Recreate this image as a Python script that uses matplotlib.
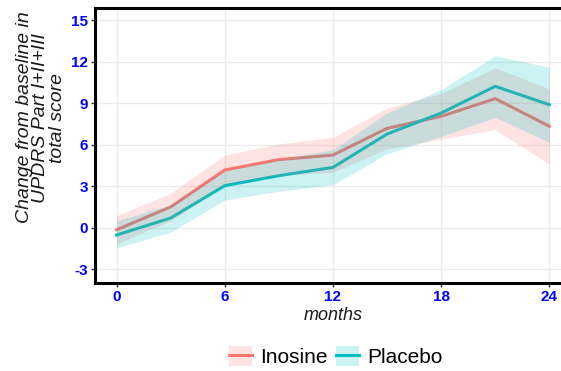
import matplotlib
matplotlib.use("Agg")
import matplotlib.pyplot as plt
from matplotlib.patches import Patch
from matplotlib.lines import Line2D

plt.rcParams['font.family'] = ['Liberation Sans', 'DejaVu Sans']

# 月份
months = [0, 3, 6, 9, 12, 15, 18, 21, 24]

# Inosine 组
inosine = [-0.15, 1.5, 4.17, 4.92, 5.25, 7.18, 8.05, 9.33, 7.33]
inosine_lo = [-1.15, 0.5, 3.1, 3.8, 4.0, 5.7, 6.4, 7.09, 4.6]
inosine_hi = [0.87, 2.5, 5.25, 6.05, 6.53, 8.65, 9.7, 11.55, 10.03]

# Placebo 组
placebo = [-0.53, 0.7, 3.04, 3.76, 4.36, 6.77, 8.29, 10.22, 8.89]
placebo_lo = [-1.47, -0.31, 2.0, 2.63, 3.1, 5.35, 6.6, 7.98, 6.17]
placebo_hi = [0.5, 1.66, 4.1, 4.9, 5.64, 8.29, 9.98, 12.44, 11.6]

xticks = [0, 6, 12, 18, 24]
yticks = [-3, 0, 3, 6, 9, 12, 15]

red = '#F8766D'
teal = '#00BFC4'

fig = plt.figure(figsize=(5.61, 3.71), dpi=100)
# 面板右侧超出图片边缘（原图被裁掉）
ax = fig.add_axes([0.1693, 0.2372, 0.8485, 0.7408])

ax.plot(months, inosine, color=red, lw=2.2, zorder=2)
ax.plot(months, placebo, color=teal, lw=2.2, zorder=2)
ax.fill_between(months, inosine_lo, inosine_hi, color=red, alpha=0.2, lw=0, zorder=3)
ax.fill_between(months, placebo_lo, placebo_hi, color=teal, alpha=0.2, lw=0, zorder=3)

ax.set_xlim(-1.2, 25.2)
ax.set_ylim(-4.0, 15.87)
ax.set_xticks(xticks)
ax.set_yticks(yticks)
ax.set_xticklabels([str(v) for v in xticks])
ax.set_yticklabels([str(v) for v in yticks])
ax.grid(True, color='#ebebeb', lw=1.0, zorder=0)
ax.set_axisbelow(True)

for lab in ax.get_xticklabels() + ax.get_yticklabels():
    lab.set_color('#0000FF')
    lab.set_fontweight('bold')
    lab.set_fontsize(11)
ax.tick_params(length=3, width=1, color='#333333', pad=2)

for s in ax.spines.values():
    s.set_linewidth(2.2)
    s.set_color('black')

ax.set_xlabel('months', fontsize=13, style='italic', color='#1a1a1a', labelpad=2)
fig.text(0.073, 0.683, 'Change from baseline in\nUPDRS Part I+II+III\ntotal score',
         fontsize=14, style='italic', color='#1a1a1a', linespacing=0.97,
         rotation=90, ha='center', va='center', multialignment='center')

handles = [
    (Patch(facecolor=red, alpha=0.2, lw=0), Line2D([], [], color=red, lw=2.2)),
    (Patch(facecolor=teal, alpha=0.2, lw=0), Line2D([], [], color=teal, lw=2.2)),
]
fig.legend(handles, ['Inosine', 'Placebo'], loc='center', bbox_to_anchor=(0.598, 0.038),
           ncol=2, frameon=False, fontsize=15, handlelength=1.1, handleheight=1.1,
           handletextpad=0.4, columnspacing=0.4)

fig.savefig('out.png', dpi=100)
